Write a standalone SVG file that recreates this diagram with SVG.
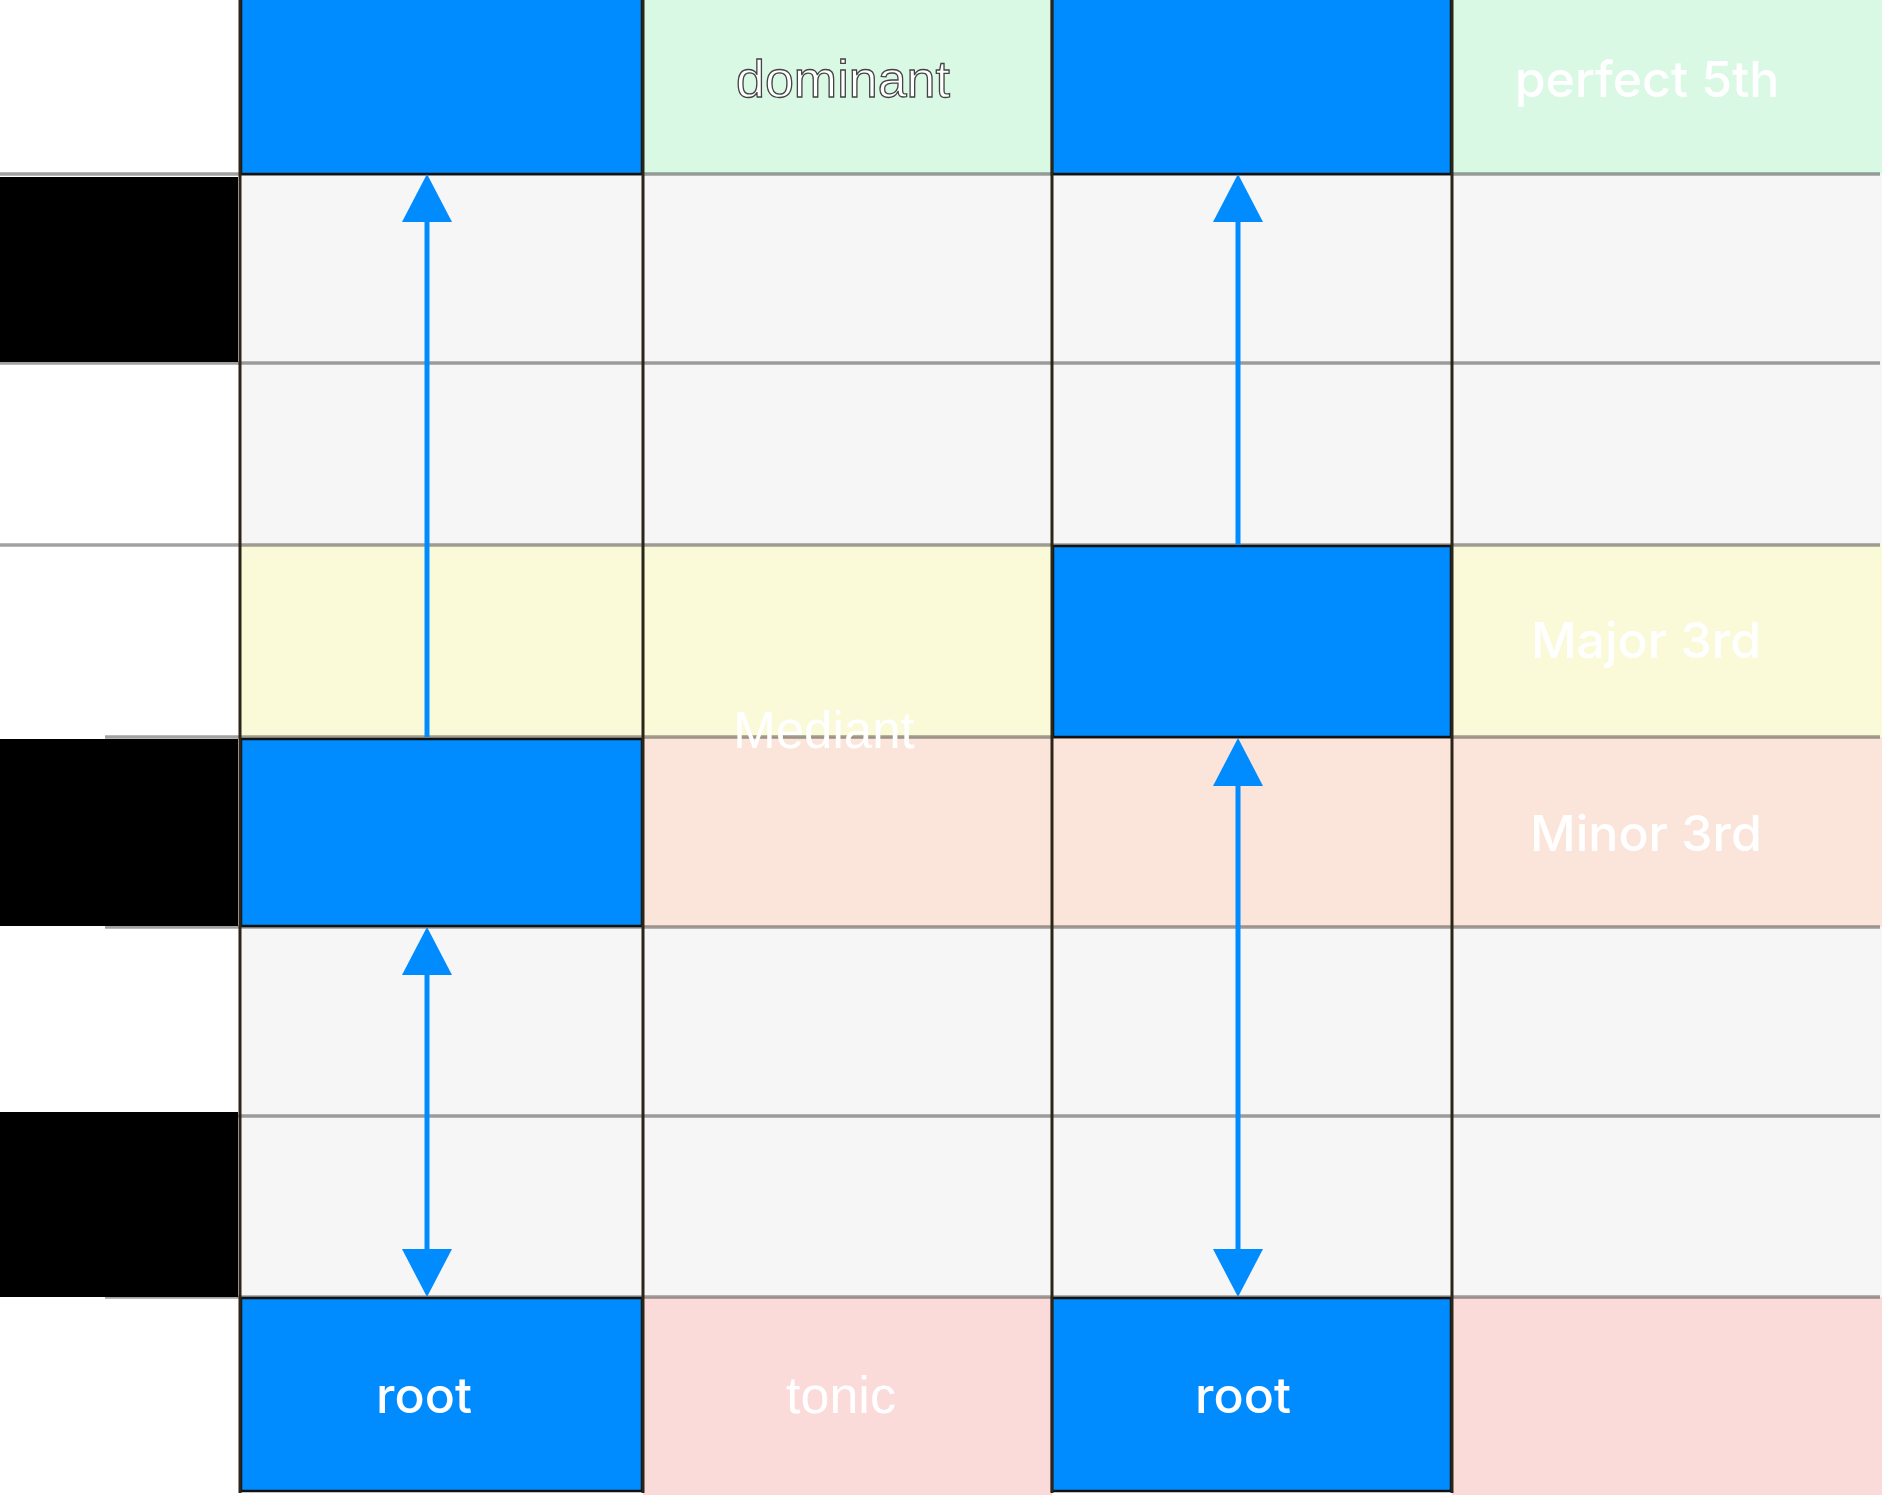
<svg xmlns="http://www.w3.org/2000/svg" width="1882" height="1495" viewBox="0 0 1882 1495">
<defs>
<style>
.grey{fill:#f6f6f6}
.green{fill:#daf9e5}
.yellow{fill:#fafad9}
.peach{fill:#fbe5da}
.pink{fill:#fbdada}
.hl{stroke:#000;stroke-opacity:0.37;stroke-width:3.5}
.vl{stroke:#2a2419;stroke-width:3}
.key{fill:#000}
.blue{fill:#008cff;stroke:#111;stroke-width:2.5}
.arrow{stroke:#008cff;stroke-width:5;fill:none}
.lblA{font-family:"Liberation Sans",Arial,sans-serif;fill:#fff;text-anchor:middle}
.lblB{font-family:Inter,"Liberation Sans",sans-serif;fill:#fff;text-anchor:middle;font-size:50px;font-weight:500}
</style>
<marker id="ah" viewBox="0 0 48 50" markerWidth="48" markerHeight="50" refX="0" refY="25" orient="auto-start-reverse" markerUnits="userSpaceOnUse">
<path d="M0,0 L48,25 L0,50 z" fill="#008cff"/>
</marker>
</defs>
<rect x="0" y="0" width="1882" height="1495" fill="#fff"/>
<g id="background">
<rect class="green" x="643" y="0" width="409" height="174"/>
<rect class="green" x="1452" y="0" width="430" height="174"/>
<rect class="grey" x="240" y="174" width="1642" height="371"/>
<rect class="yellow" x="240" y="545" width="1642" height="192"/>
<rect class="peach" x="643" y="737" width="1239" height="190"/>
<rect class="grey" x="240" y="927" width="1642" height="370"/>
<rect class="pink" x="643" y="1297" width="409" height="198"/>
<rect class="pink" x="1452" y="1297" width="430" height="198"/>
</g>
<g id="gridlines">
<line class="hl" x1="0" y1="174" x2="1880" y2="174"/>
<line class="hl" x1="0" y1="363" x2="1880" y2="363"/>
<line class="hl" x1="0" y1="545" x2="1880" y2="545"/>
<line class="hl" x1="105" y1="737" x2="1880" y2="737"/>
<line class="hl" x1="105" y1="927" x2="1880" y2="927"/>
<line class="hl" x1="0" y1="1116" x2="1880" y2="1116"/>
<line class="hl" x1="105" y1="1297" x2="1880" y2="1297"/>
</g>
<g id="keys">
<rect class="key" x="0" y="177" width="238" height="185"/>
<rect class="key" x="0" y="739" width="238" height="187"/>
<rect class="key" x="0" y="1112" width="238" height="185"/>
</g>
<g id="node-c1-top"><rect class="blue" x="241" y="-5" width="401" height="179"/></g>
<g id="node-c3-top"><rect class="blue" x="1052" y="-5" width="399" height="179"/></g>
<g id="node-c3-mid"><rect class="blue" x="1053" y="546" width="398" height="191"/></g>
<g id="node-c1-mid"><rect class="blue" x="241" y="739" width="401" height="187"/></g>
<g id="node-c1-root"><rect class="blue" x="241" y="1298" width="401" height="193"/><text class="lblB" x="424" y="1413">root</text></g>
<g id="node-c3-root"><rect class="blue" x="1052" y="1298" width="399" height="193"/><text class="lblB" x="1243" y="1413">root</text></g>
<g id="columns">
<line class="vl" x1="240" y1="0" x2="240" y2="1493"/>
<line class="vl" x1="643" y1="0" x2="643" y2="1493"/>
<line class="vl" x1="1052" y1="0" x2="1052" y2="1493"/>
<line class="vl" x1="1452" y1="0" x2="1452" y2="1493"/>
</g>
<g id="connectors">
<line class="arrow" x1="427" y1="737" x2="427" y2="222" marker-end="url(#ah)"/>
<line class="arrow" x1="427" y1="975" x2="427" y2="1249" marker-start="url(#ah)" marker-end="url(#ah)"/>
<line class="arrow" x1="1238" y1="545" x2="1238" y2="222" marker-end="url(#ah)"/>
<line class="arrow" x1="1238" y1="786" x2="1238" y2="1249" marker-start="url(#ah)" marker-end="url(#ah)"/>
</g>
<g id="labels">
<text class="lblA" x="843" y="97" font-size="52" stroke="#444" stroke-width="1.3">dominant</text>
<text class="lblB" x="1647" y="97">perfect 5th</text>
<text class="lblB" x="1646" y="658">Major 3rd</text>
<text class="lblB" x="1646" y="851">Minor 3rd</text>
<text class="lblA" x="824" y="748" font-size="51">Mediant</text>
<text class="lblA" x="841" y="1413" font-size="52">tonic</text>
</g>
</svg>
